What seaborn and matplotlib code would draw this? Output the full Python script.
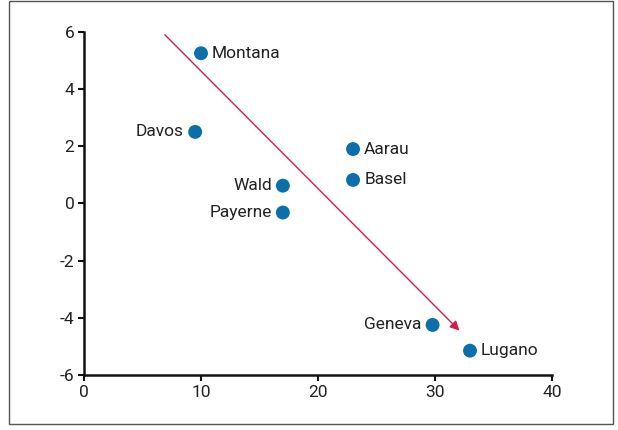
import matplotlib
matplotlib.use("Agg")
import matplotlib.pyplot as plt
import seaborn as sns
import pandas as pd
from matplotlib.patches import Rectangle

cities = ["Montana", "Davos", "Wald", "Payerne", "Aarau", "Basel", "Geneva", "Lugano"]
x_vals = [10.0, 9.5, 17.0, 17.0, 23.0, 23.0, 29.8, 33.0]
y_vals = [5.25, 2.5, 0.62, -0.32, 1.9, 0.82, -4.25, -5.15]
label_side = ["right", "left", "left", "left", "right", "right", "left", "right"]
arrow_start = (6.9, 5.9)
arrow_end = (32.1, -4.45)
x_ticks = [0, 10, 20, 30, 40]
y_ticks = [-6, -4, -2, 0, 2, 4, 6]

df = pd.DataFrame({"city": cities, "x": x_vals, "y": y_vals, "side": label_side})

sns.set_style("white")
plt.rcParams['font.family'] = ['Roboto', 'DejaVu Sans']
plt.rcParams['axes.unicode_minus'] = False

fig = plt.figure(figsize=(6.18, 4.30), dpi=100)
ax = fig.add_axes([0.136, 0.128, 0.757, 0.798])

sns.scatterplot(data=df, x="x", y="y", ax=ax, color="#0b6fab", s=100,
                edgecolor="none", zorder=3, legend=False)

for _, r in df.iterrows():
    if r["side"] == "right":
        ax.annotate(r["city"], (r["x"], r["y"]), xytext=(8, 0), textcoords="offset points",
                    ha="left", va="center", fontsize=12.5, color="#222222")
    else:
        ax.annotate(r["city"], (r["x"], r["y"]), xytext=(-8, 0), textcoords="offset points",
                    ha="right", va="center", fontsize=12.5, color="#222222")

ax.annotate("", xy=arrow_end, xytext=arrow_start,
            arrowprops=dict(arrowstyle="-|>", color="#d81b4f", lw=1.0,
                            mutation_scale=14, shrinkA=0, shrinkB=0))

ax.set_xlim(0, 40)
ax.set_ylim(-6, 6)
ax.set_xticks(x_ticks)
ax.set_yticks(y_ticks)
ax.set_xlabel("")
ax.set_ylabel("")
for s in ["top", "right"]:
    ax.spines[s].set_visible(False)
for s in ["left", "bottom"]:
    ax.spines[s].set_color("#111111")
    ax.spines[s].set_linewidth(1.8)
ax.tick_params(axis="both", direction="out", length=4, width=1.5, color="#111111",
               labelsize=12.5, labelcolor="#222222", pad=3)
ax.tick_params(axis="both", left=True, bottom=True)

fig.patches.append(Rectangle((9 / 618, 6 / 430), 604 / 618, 423 / 430, transform=fig.transFigure,
                             fill=False, edgecolor="#555555", lw=1.0))

fig.savefig("out.png", dpi=100)
